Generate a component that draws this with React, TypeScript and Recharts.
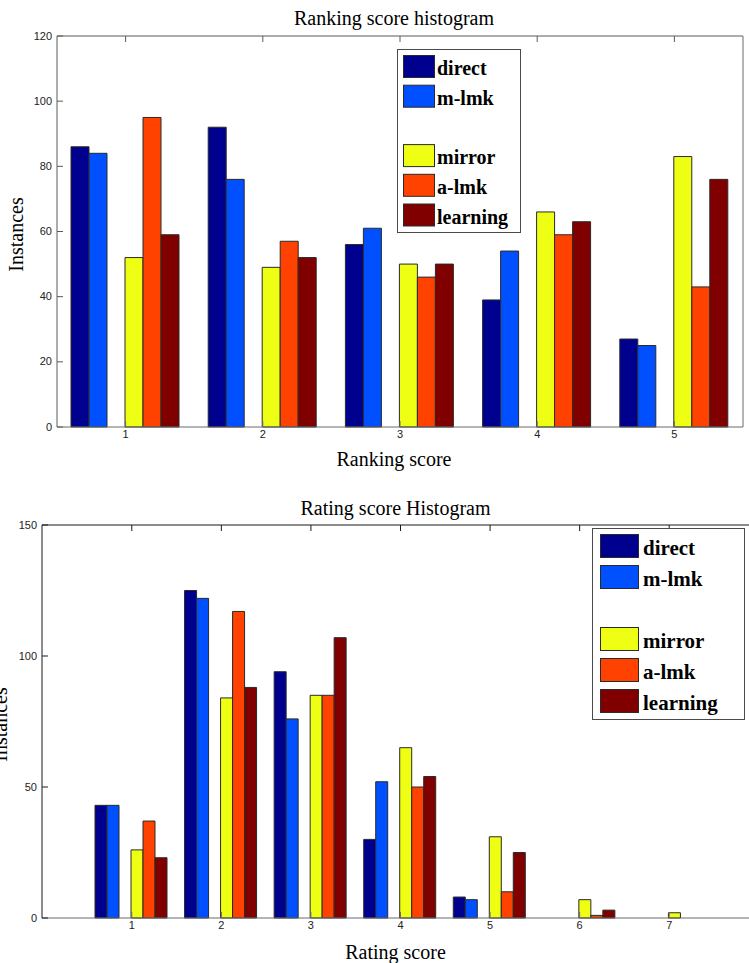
import React from 'react';
import { BarChart, Bar, XAxis, YAxis, Legend, Label } from 'recharts';

// ---- Ranking score histogram ----
const rankingScores = ['1', '2', '3', '4', '5'];
const rankingDirect = [86, 92, 56, 39, 27];
const rankingMLmk = [84, 76, 61, 54, 25];
const rankingMirror = [52, 49, 50, 66, 83];
const rankingALmk = [95, 57, 46, 59, 43];
const rankingLearning = [59, 52, 50, 63, 76];
const rankingYTicks = [0, 20, 40, 60, 80, 100, 120];

// ---- Rating score histogram ----
const ratingScores = ['1', '2', '3', '4', '5', '6', '7'];
const ratingDirect = [43, 125, 94, 30, 8, 0, 0];
const ratingMLmk = [43, 122, 76, 52, 7, 0, 0];
const ratingMirror = [26, 84, 85, 65, 31, 7, 2];
const ratingALmk = [37, 117, 85, 50, 10, 1, 0];
const ratingLearning = [23, 88, 107, 54, 25, 3, 0];
const ratingYTicks = [0, 50, 100, 150];

const seriesNames = ['direct', 'm-lmk', 'mirror', 'a-lmk', 'learning'];
const seriesColors = ['#00008f', '#0050ff', '#eeff14', '#ff4200', '#800000'];

const SERIF = '"Liberation Serif", "Times New Roman", serif';
const SANS = '"Liberation Sans", Arial, sans-serif';

const buildRows = (cats: string[], cols: number[][]) =>
  cats.map((c, i) => {
    const row: Record<string, string | number> = { score: c };
    seriesNames.forEach((n, k) => {
      row[n] = cols[k][i];
    });
    return row;
  });

const rankingRows = buildRows(rankingScores, [
  rankingDirect,
  rankingMLmk,
  rankingMirror,
  rankingALmk,
  rankingLearning,
]);
const ratingRows = buildRows(ratingScores, [
  ratingDirect,
  ratingMLmk,
  ratingMirror,
  ratingALmk,
  ratingLearning,
]);

// legend rows: two groups separated by an empty line
const legendRows: (number | null)[] = [0, 1, null, 2, 3, 4];

type LegendGeo = {
  left: number;
  top: number;
  width: number;
  height: number;
  swatchX: number;
  swatchW: number;
  swatchH: number;
  rowTop: number;
  pitch: number;
  textX: number;
  textDy: number;
  fontSize: number;
};

const LegendBox = ({ g }: { g: LegendGeo }) => (
  <svg width={g.width} height={g.height} style={{ display: 'block' }}>
    <rect x={0.5} y={0.5} width={g.width - 1} height={g.height - 1} fill="#ffffff" stroke="#4a4a4a" />
    {legendRows.map((k, i) =>
      k === null ? null : (
        <g key={seriesNames[k]}>
          <rect
            x={g.swatchX + 0.5}
            y={g.rowTop + i * g.pitch + 0.5}
            width={g.swatchW}
            height={g.swatchH}
            fill={seriesColors[k]}
            stroke="#2a2a2a"
          />
          <text
            x={g.textX}
            y={g.rowTop + i * g.pitch + g.textDy}
            fontFamily={SERIF}
            fontWeight="bold"
            fontSize={g.fontSize}
            fill="#000"
          >
            {seriesNames[k]}
          </text>
        </g>
      )
    )}
  </svg>
);

type ChartCfg = {
  rows: Record<string, string | number>[];
  yMax: number;
  yTicks: number[];
  pageTop: number;
  width: number;
  height: number;
  marginTop: number;
  yAxisWidth: number;
  xAxisHeight: number;
  xPad: number;
  catGap: number;
  title: string;
  xLabel: string;
  titleDy: number;
  xLabelDy: number;
  textShift: number;
  yLabelX: number;
  yLabelDy: number;
  frameDark: string;
  frameLight: string;
  legend: LegendGeo;
};

const TICK_LEN = 6;

const Histogram = ({ c }: { c: ChartCfg }) => {
  const tickText = { fontFamily: SANS, fontSize: 11, fill: '#222' };

  const bottomTick = (p: any) => (
    <g>
      <line x1={p.x} x2={p.x} y1={p.y} y2={p.y - TICK_LEN} stroke={c.frameLight} />
      <text x={p.x} y={p.y + 11} textAnchor="middle" {...tickText}>
        {p.payload.value}
      </text>
    </g>
  );
  const topTick = (p: any) => (
    <line x1={p.x} x2={p.x} y1={p.y} y2={p.y + TICK_LEN} stroke={c.frameDark} />
  );
  const leftTick = (p: any) => (
    <g>
      <line x1={p.x} x2={p.x + TICK_LEN} y1={p.y} y2={p.y} stroke={c.frameDark} />
      <text x={p.x - 5} y={p.y + 3.5} textAnchor="end" {...tickText}>
        {p.payload.value}
      </text>
    </g>
  );
  const rightTick = (p: any) => (
    <line x1={p.x} x2={p.x - TICK_LEN} y1={p.y} y2={p.y} stroke={c.frameLight} />
  );

  return (
    <div style={{ position: 'absolute', left: 0, top: c.pageTop }}>
      <BarChart
        width={c.width}
        height={c.height}
        data={c.rows}
        margin={{ top: c.marginTop, right: 5, bottom: 0, left: 0 }}
        barGap={0}
        barCategoryGap={c.catGap}
      >
        <XAxis
          xAxisId="x"
          dataKey="score"
          type="category"
          orientation="bottom"
          height={c.xAxisHeight}
          padding={{ left: c.xPad, right: c.xPad }}
          interval={0}
          tickSize={0}
          tickMargin={0}
          tickLine={false}
          axisLine={{ stroke: c.frameLight }}
          tick={bottomTick}
        >
          <Label
            content={(lp: any) => {
              const vb = lp.viewBox;
              return (
                <text
                  x={vb.x + vb.width / 2 + c.textShift}
                  y={vb.y + c.xLabelDy}
                  textAnchor="middle"
                  fontFamily={SERIF}
                  fontSize={20}
                  fill="#000"
                >
                  {c.xLabel}
                </text>
              );
            }}
          />
        </XAxis>
        <XAxis
          xAxisId="xt"
          dataKey="score"
          type="category"
          orientation="top"
          height={1}
          padding={{ left: c.xPad, right: c.xPad }}
          interval={0}
          tickSize={0}
          tickMargin={0}
          tickLine={false}
          axisLine={{ stroke: c.frameDark }}
          tick={topTick}
        >
          <Label
            content={(lp: any) => {
              const vb = lp.viewBox;
              return (
                <text
                  x={vb.x + vb.width / 2 + c.textShift}
                  y={vb.y + vb.height + c.titleDy}
                  textAnchor="middle"
                  fontFamily={SERIF}
                  fontSize={20}
                  fill="#000"
                >
                  {c.title}
                </text>
              );
            }}
          />
        </XAxis>
        <YAxis
          yAxisId="y"
          type="number"
          orientation="left"
          width={c.yAxisWidth}
          domain={[0, c.yMax]}
          ticks={c.yTicks}
          interval={0}
          tickSize={0}
          tickMargin={0}
          tickLine={false}
          axisLine={{ stroke: c.frameDark }}
          tick={leftTick}
        >
          <Label
            content={(lp: any) => {
              const vb = lp.viewBox;
              const cx = c.yLabelX;
              const cy = vb.y + vb.height / 2 + c.yLabelDy;
              return (
                <text
                  x={cx}
                  y={cy}
                  transform={`rotate(-90, ${cx}, ${cy})`}
                  textAnchor="middle"
                  fontFamily={SERIF}
                  fontSize={20}
                  fill="#000"
                >
                  Instances
                </text>
              );
            }}
          />
        </YAxis>
        <YAxis
          yAxisId="yr"
          type="number"
          orientation="right"
          width={1}
          domain={[0, c.yMax]}
          ticks={c.yTicks}
          interval={0}
          tickSize={0}
          tickMargin={0}
          tickLine={false}
          axisLine={{ stroke: c.frameLight }}
          tick={rightTick}
        />
        <Legend
          layout="vertical"
          align="center"
          verticalAlign="middle"
          wrapperStyle={{
            left: c.legend.left,
            top: c.legend.top,
            width: c.legend.width,
            height: c.legend.height,
          }}
          content={() => <LegendBox g={c.legend} />}
        />
        {[0, 1].map((k) => (
          <Bar
            key={seriesNames[k]}
            xAxisId="x"
            yAxisId="y"
            dataKey={seriesNames[k]}
            fill={seriesColors[k]}
            stroke="#2a2a2a"
            strokeWidth={1}
            isAnimationActive={false}
          />
        ))}
        <Bar
          xAxisId="x"
          yAxisId="y"
          dataKey="gap"
          fill="none"
          legendType="none"
          isAnimationActive={false}
        />
        {[2, 3, 4].map((k) => (
          <Bar
            key={seriesNames[k]}
            xAxisId="x"
            yAxisId="y"
            dataKey={seriesNames[k]}
            fill={seriesColors[k]}
            stroke="#2a2a2a"
            strokeWidth={1}
            isAnimationActive={false}
          />
        ))}
      </BarChart>
    </div>
  );
};

const rankingCfg: ChartCfg = {
  rows: rankingRows,
  yMax: 120,
  yTicks: rankingYTicks,
  pageTop: 0,
  width: 749,
  height: 478,
  marginTop: 35,
  yAxisWidth: 57,
  xAxisHeight: 51,
  xPad: 0,
  catGap: 14,
  title: 'Ranking score histogram',
  xLabel: 'Ranking score',
  titleDy: -11,
  xLabelDy: 39,
  textShift: -6,
  yLabelX: 23,
  yLabelDy: 3,
  frameDark: '#5a5a5a',
  frameLight: '#6a6a6a',
  legend: {
    left: 397,
    top: 49,
    width: 124,
    height: 184,
    swatchX: 6,
    swatchW: 31,
    swatchH: 22,
    rowTop: 6,
    pitch: 29.7,
    textX: 40,
    textDy: 20,
    fontSize: 20,
  },
};

const ratingCfg: ChartCfg = {
  rows: ratingRows,
  yMax: 150,
  yTicks: ratingYTicks,
  pageTop: 480,
  width: 765,
  height: 483,
  marginTop: 44,
  yAxisWidth: 42,
  xAxisHeight: 45,
  xPad: 45,
  catGap: 8,
  title: 'Rating score Histogram',
  xLabel: 'Rating score',
  titleDy: -10,
  xLabelDy: 41,
  textShift: -5,
  yLabelX: 7,
  yLabelDy: 3,
  frameDark: '#1a1a1a',
  frameLight: '#6a6a6a',
  legend: {
    left: 592,
    top: 48,
    width: 153,
    height: 192,
    swatchX: 8,
    swatchW: 38,
    swatchH: 23,
    rowTop: 6,
    pitch: 31,
    textX: 51,
    textDy: 21,
    fontSize: 21,
  },
};

export default function App() {
  return (
    <div
      style={{
        position: 'absolute',
        left: 0,
        top: 0,
        width: 749,
        height: 963,
        overflow: 'hidden',
        background: '#ffffff',
      }}
    >
      <Histogram c={rankingCfg} />
      <Histogram c={ratingCfg} />
    </div>
  );
}
